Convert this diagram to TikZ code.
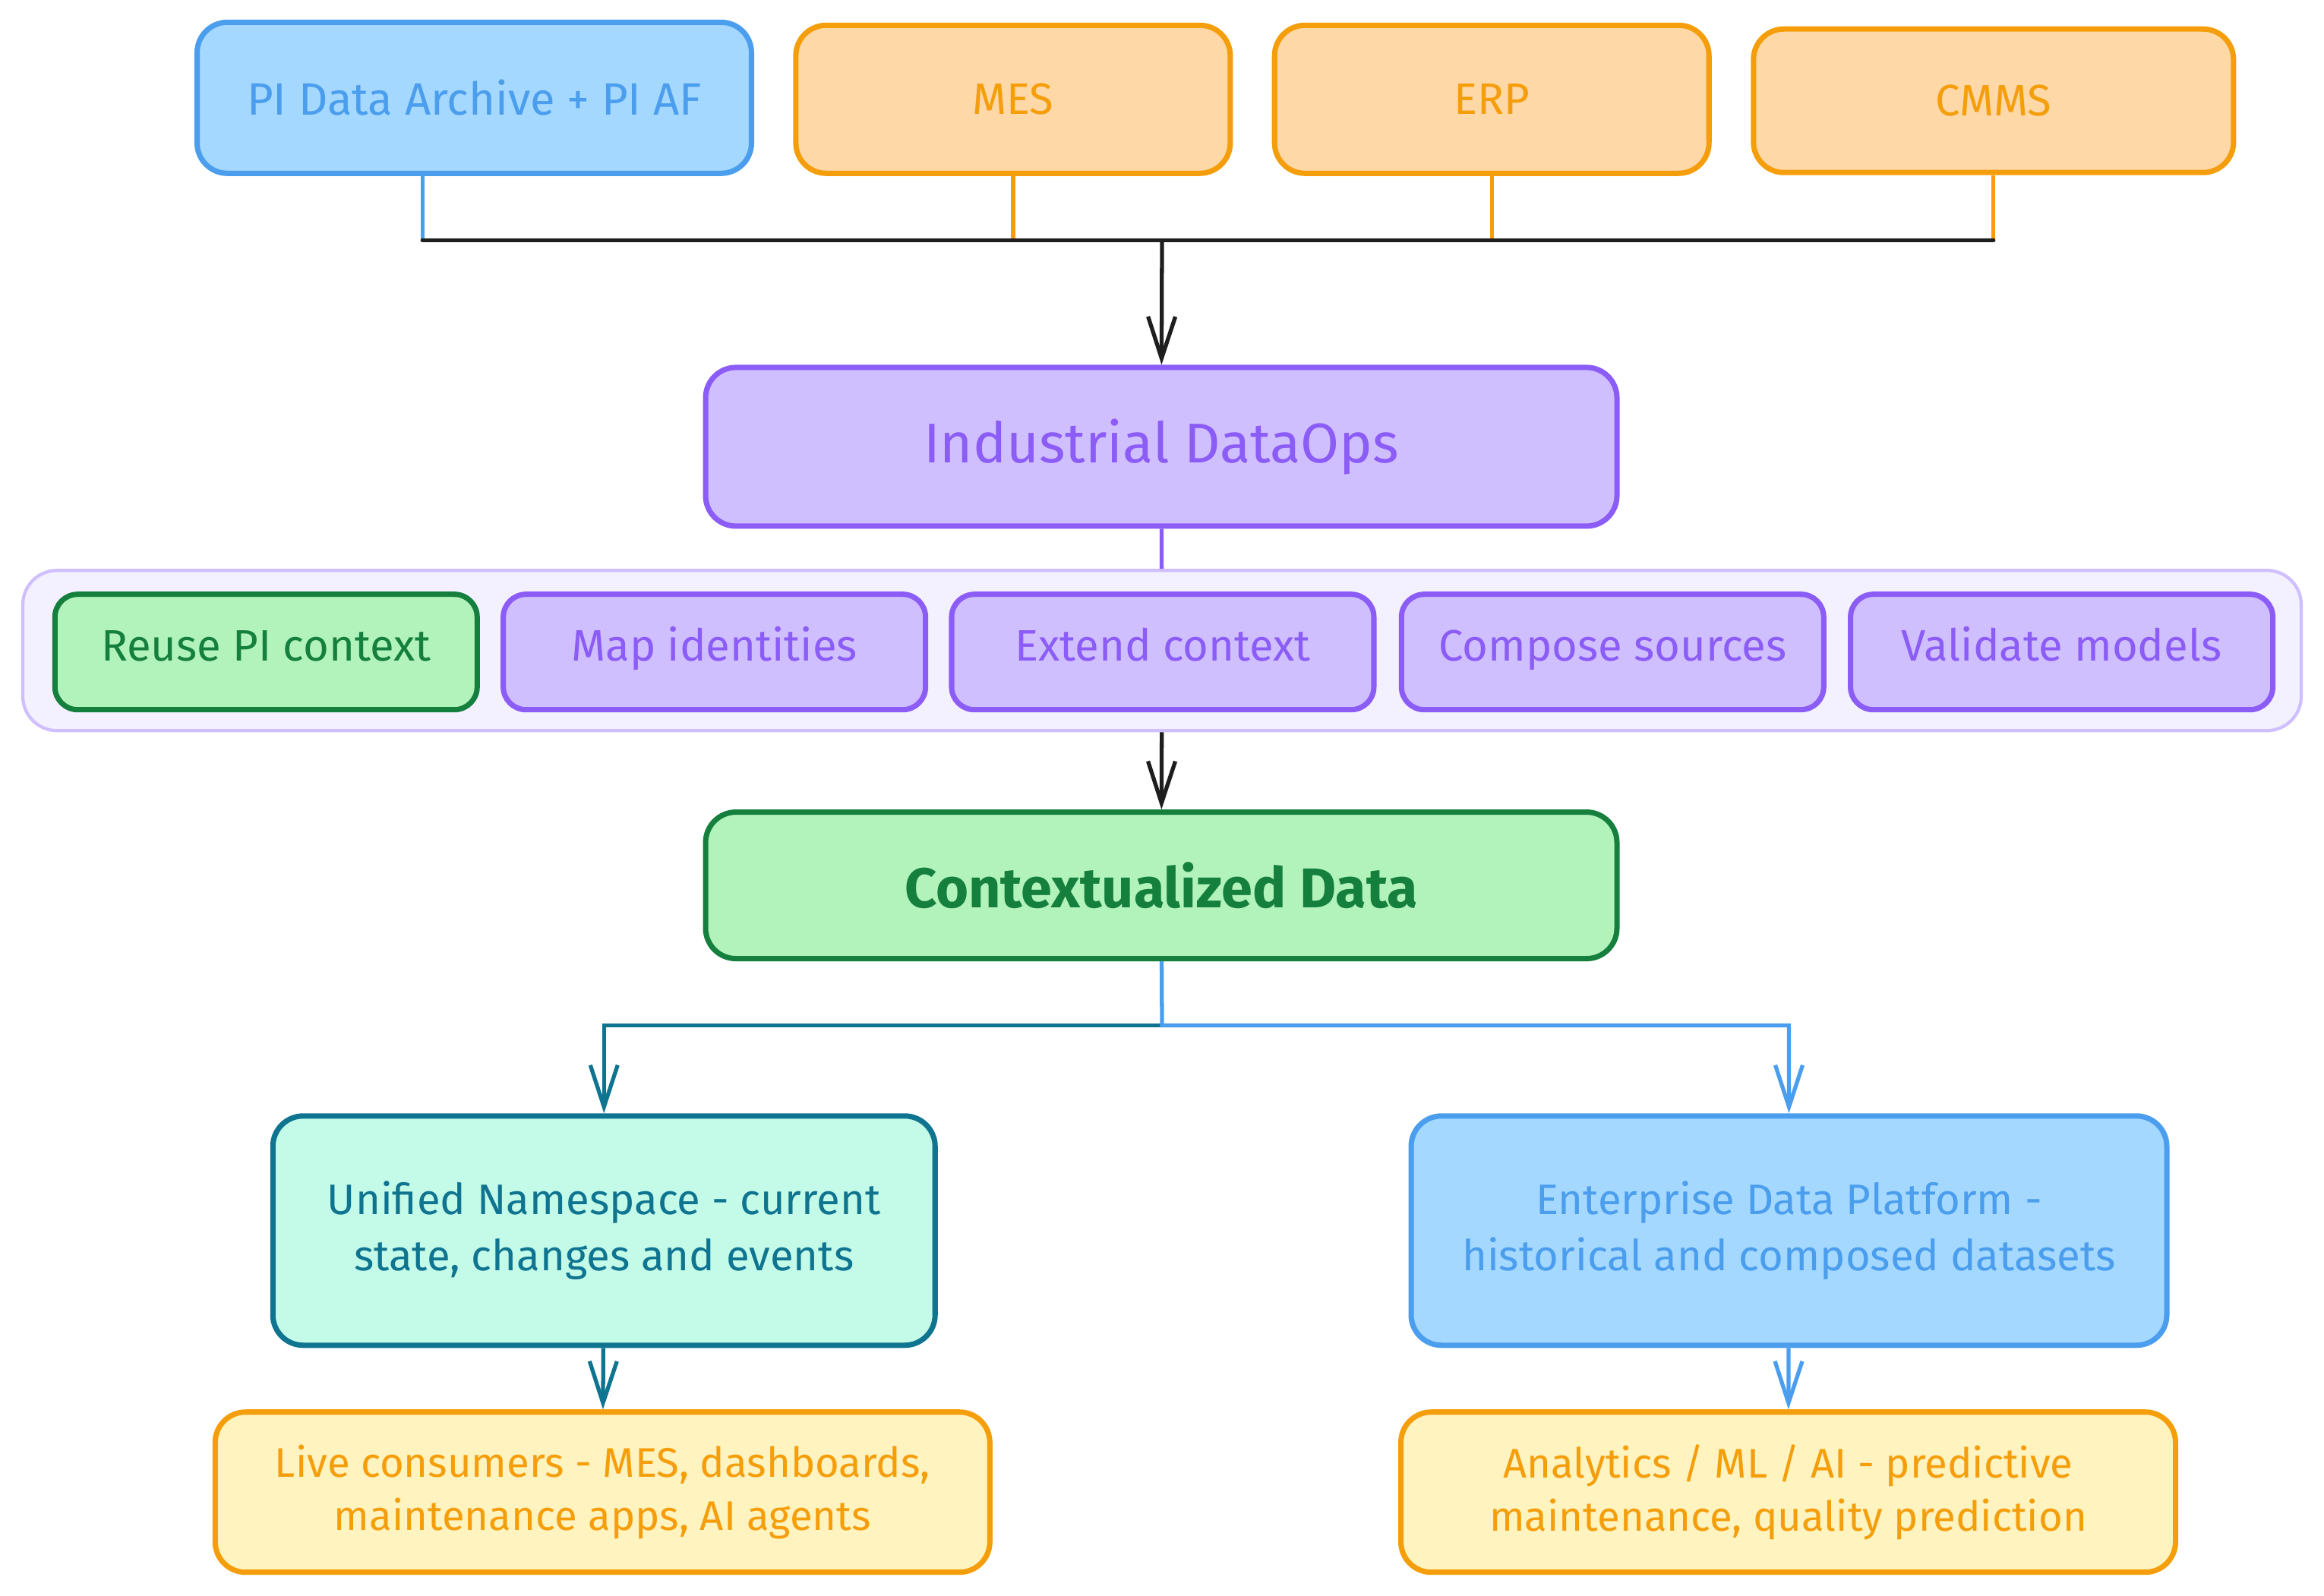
\documentclass[tikz,border=0pt]{standalone}
\usepackage{fontspec}
\setmainfont{Fira Sans}
\usetikzlibrary{arrows.meta, positioning}

\definecolor{bluestroke}{HTML}{4A9EED}
\definecolor{bluefill}{HTML}{A5D8FF}
\definecolor{orangestroke}{HTML}{F59E0B}
\definecolor{orangefill}{HTML}{FFD8A8}
\definecolor{yellowfill}{HTML}{FFF3BF}
\definecolor{purplestroke}{HTML}{8B5CF6}
\definecolor{purplefill}{HTML}{D0BFFF}
\definecolor{lavfill}{HTML}{F3F0FF}
\definecolor{greenstroke}{HTML}{15803D}
\definecolor{greenfill}{HTML}{B2F2BB}
\definecolor{tealstroke}{HTML}{0F7490}
\definecolor{tealfill}{HTML}{C3FAE8}
\definecolor{inkline}{HTML}{1E1E1E}

\begin{document}
\begin{tikzpicture}[
    x=0.019515cm, y=-0.019515cm,
    box/.style={draw, rounded corners=0.4cm, line width=2pt, align=center, inner sep=2pt},
    source/.style={box, draw=orangestroke, fill=orangefill, text=orangestroke, minimum width=5.72cm, minimum height=1.95cm, font=\fontsize{16.5}{20}\selectfont},
    stepbox/.style={box, draw=purplestroke, fill=purplefill, text=purplestroke, minimum width=5.56cm, minimum height=1.52cm, rounded corners=0.3cm, text height=1.6ex, text depth=0.3ex, font=\fontsize{16.5}{20}\selectfont},
    consumer/.style={box, draw=orangestroke, fill=yellowfill, text=orangestroke, minimum width=10.2cm, minimum height=2.11cm, font=\fontsize{15.5}{20}\selectfont},
    wire/.style={line width=1.5pt},
    flow/.style={wire, -{Straight Barb[length=5.5mm, width=3.6mm, line width=1.5pt]}}
]
\useasboundingbox (0,0) rectangle (1568,1077);

% Sources
\node[box, draw=bluestroke, fill=bluefill, text=bluestroke, minimum width=7.3cm, minimum height=1.99cm, font=\fontsize{17}{20}\selectfont] (PI) at (320, 66) {PI Data Archive + PI AF};
\node[source] (MES) at (683.5, 67) {MES};
\node[source] (ERP) at (1006.5, 67) {ERP};
\node[source, minimum width=6.32cm, minimum height=1.89cm] (CMMS) at (1345, 68) {CMMS};

% Bus
\coordinate (busL) at (285, 162);
\coordinate (busM) at (784, 162);
\coordinate (busR) at (1345, 162);
\draw[wire, bluestroke] (PI.south -| busL) -- (busL);
\draw[wire, orangestroke] (MES) -- (MES |- busL);
\draw[wire, orangestroke] (ERP) -- (ERP |- busL);
\draw[wire, orangestroke] (CMMS) -- (busR);
\draw[wire, inkline, line cap=round] (busL) -- (busR);

% DataOps
\node[box, draw=purplestroke, fill=purplefill, text=purplestroke, minimum width=12cm, minimum height=2.09cm, font=\fontsize{21}{25}\selectfont] (DataOps) at (783.5, 301.5) {Industrial DataOps};
\draw[flow, inkline] (busM) -- (DataOps);

% Steps
\node[draw=purplefill, fill=lavfill, rounded corners=0.45cm, line width=1.2pt, minimum width=30cm, minimum height=2.11cm] (Steps) at (784, 439) {};
\draw[wire, purplestroke] (DataOps) -- (Steps);
\node[stepbox, draw=greenstroke, fill=greenfill, text=greenstroke] (Reuse) at (179.5, 440) {Reuse PI context};
\node[stepbox] (Map) at (482, 440) {Map identities};
\node[stepbox] (Extend) at (784.5, 440) {Extend context};
\node[stepbox] (Compose) at (1088, 440) {Compose sources};
\node[stepbox] (Validate) at (1391, 440) {Validate models};

% Contextualized data
\node[box, draw=greenstroke, fill=greenfill, text=greenstroke, minimum width=12cm, minimum height=1.93cm, font=\fontsize{21}{25}\selectfont\bfseries] (Context) at (783.5, 597.5) {Contextualized Data};
\draw[flow, inkline] (Steps) -- (Context);

% Targets
\node[box, draw=tealstroke, fill=tealfill, text=tealstroke, minimum width=8.72cm, minimum height=3.02cm, font=\fontsize{16}{21}\selectfont] (UNS) at (407.5, 830.5) {Unified Namespace - current\\state, changes and events};
\node[box, draw=bluestroke, fill=bluefill, text=bluestroke, minimum width=9.95cm, minimum height=3.02cm, font=\fontsize{16}{21}\selectfont] (EDP) at (1207, 830.5) {Enterprise Data Platform -\\historical and composed datasets};

\coordinate (split) at (784, 692);
\draw[flow, tealstroke] (split) -| (UNS);
\draw[flow, bluestroke] (Context) -- (split) -| (EDP);

% Consumers
\node[consumer] (Live) at (406.5, 1007) {Live consumers - MES, dashboards,\\maintenance apps, AI agents};
\node[consumer] (Analytics) at (1206.5, 1007) {Analytics / ML / AI - predictive\\maintenance, quality prediction};
\draw[flow, tealstroke] (UNS) -- (Live);
\draw[flow, bluestroke] (EDP) -- (Analytics);

\end{tikzpicture}
\end{document}
